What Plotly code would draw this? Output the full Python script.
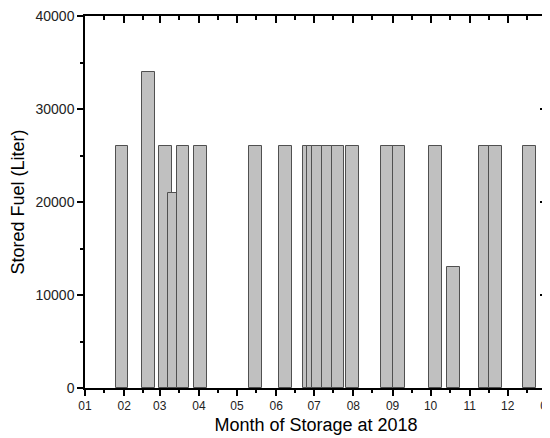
import plotly.graph_objects as go

# Storage dates (bar centres) and stored fuel values
storage_dates = [
    "2018-01-30 06:00", "2018-02-20 09:00", "2018-03-05 12:00", "2018-03-12 10:00",
    "2018-03-19 12:00", "2018-04-02 12:00", "2018-05-15 19:00", "2018-06-08 14:00",
    "2018-06-27 14:00", "2018-06-30 18:00", "2018-07-04 17:00", "2018-07-12 02:00",
    "2018-07-20 00:00", "2018-07-31 02:00", "2018-08-28 00:00", "2018-09-06 00:00",
    "2018-10-05 00:00", "2018-10-18 22:00", "2018-11-12 22:00", "2018-11-21 10:00",
    "2018-12-18 00:00",
]
stored_fuel = [
    26000, 34000, 26000, 21000,
    26000, 26000, 26000, 26000,
    26000, 26000, 26000, 26000,
    26000, 26000, 26000, 26000,
    26000, 13000, 26000, 26000,
    26000,
]
x_range = ["2018-01-01", "2019-01-01"]
y_range = [0, 40000]

BAR_WIDTH_MS = 10 * 24 * 3600 * 1000
FONT = "Liberation Sans, Arial, sans-serif"

fig = go.Figure()
fig.add_trace(go.Bar(
    x=storage_dates, y=stored_fuel, width=BAR_WIDTH_MS,
    marker=dict(color="#c0c0c0", line=dict(color="#505050", width=1)),
    showlegend=False,
))
# invisible helper trace so the mirrored (top/right) axes are drawn
fig.add_trace(go.Scatter(x=x_range, y=y_range, xaxis="x2", yaxis="y2",
                         mode="markers", marker=dict(opacity=0),
                         hoverinfo="skip", showlegend=False))

common_x = dict(type="date", range=x_range, dtick="M1", tick0="2018-01-01",
                showgrid=False, zeroline=False, showline=True, automargin=False,
                ticklabeloverflow="allow",
                linecolor="black", linewidth=1.5, tickcolor="black", tickwidth=1.5)
common_y = dict(range=y_range, dtick=10000, showgrid=False, zeroline=False,
                showline=True, linecolor="black", linewidth=1.5, automargin=False,
                ticklabeloverflow="allow",
                tickcolor="black", tickwidth=1.5)

# page body has an 8px default margin, so the figure is 8px smaller
fig.update_layout(
    width=542, height=430,
    margin=dict(l=77, r=3, t=8, b=50),
    paper_bgcolor="white", plot_bgcolor="white",
    font=dict(family=FONT, color="black"),
    bargap=0,
    xaxis=dict(**common_x, ticks="outside", ticklen=6, tickformat="%m",
               tickfont=dict(size=12, color="#222"),
               minor=dict(ticks="outside", ticklen=3.5, dtick="M1", tick0="2018-01-16",
                          tickcolor="black", tickwidth=1.5),
               title=dict(text="Month of Storage at 2018", font=dict(size=18), standoff=6)),
    yaxis=dict(**common_y, ticks="outside", ticklen=6, tickformat="d",
               tickfont=dict(size=14, color="#222"),
               minor=dict(ticks="outside", ticklen=3.5, dtick=5000,
                          tickcolor="black", tickwidth=1.5),
               title=dict(text="Stored Fuel (Liter)", font=dict(size=18), standoff=12)),
    xaxis2=dict(**common_x, overlaying="x", side="top", anchor="y2", ticks="inside",
                ticklen=7, showticklabels=False,
                minor=dict(ticks="inside", ticklen=4, dtick="M1", tick0="2018-01-16",
                           tickcolor="black", tickwidth=1.5)),
    yaxis2=dict(**common_y, overlaying="y", side="right", anchor="x2", ticks="inside",
                ticklen=7, showticklabels=False,
                minor=dict(ticks="inside", ticklen=4, dtick=5000,
                           tickcolor="black", tickwidth=1.5)),
)

fig.write_html("out.html")
